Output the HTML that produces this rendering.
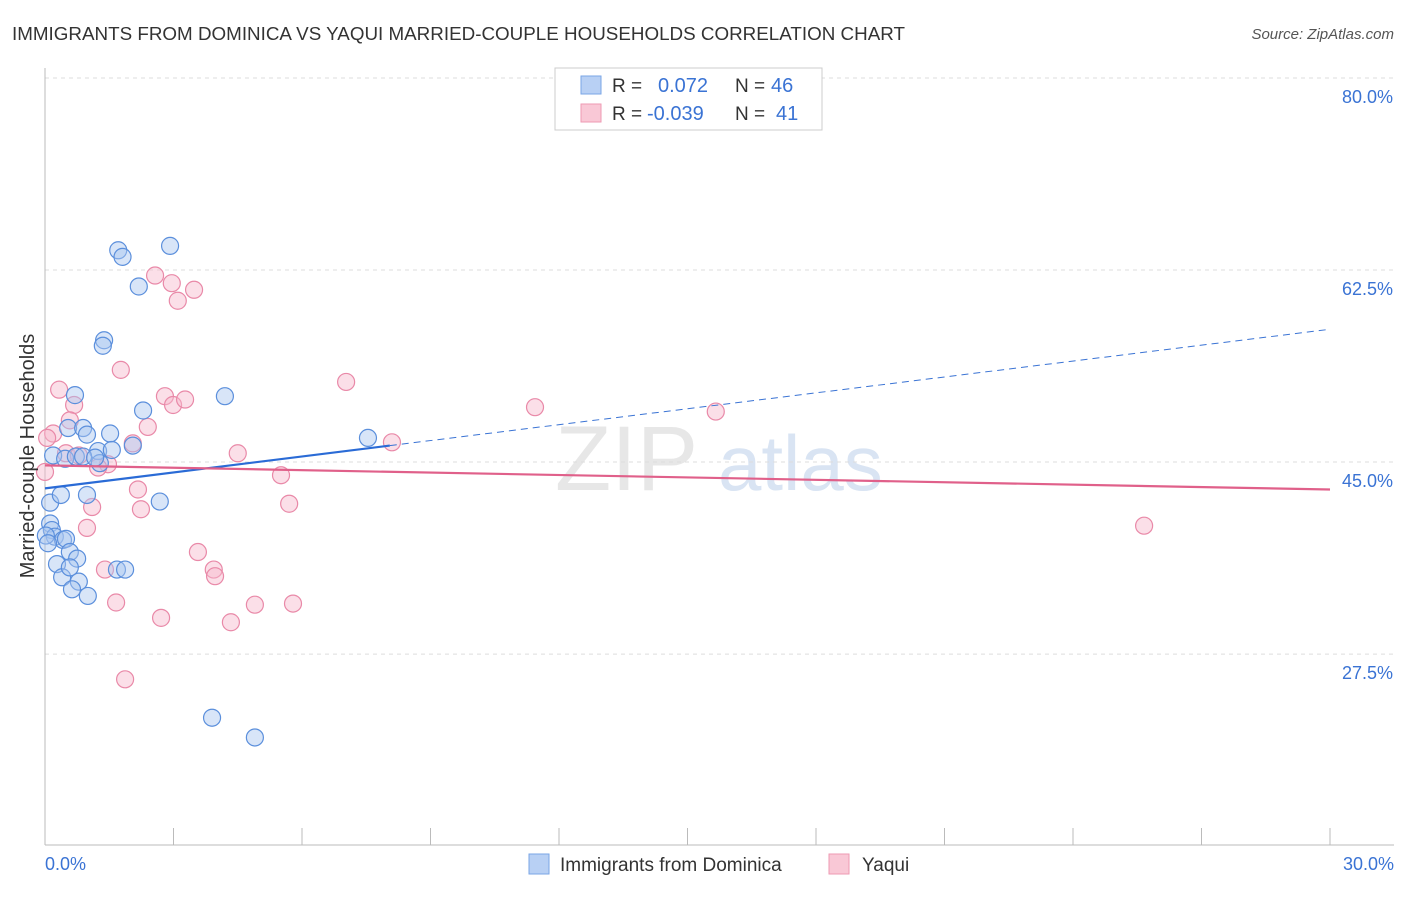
<!DOCTYPE html>
<html><head><meta charset="utf-8">
<style>
body{margin:0;background:#fff;font-family:"Liberation Sans",sans-serif;}
svg text{font-family:"Liberation Sans",sans-serif;}
</style></head>
<body>
<svg id="chart" width="1406" height="892" xmlns="http://www.w3.org/2000/svg">
<text x="12" y="40" font-size="18.5" textLength="893" lengthAdjust="spacingAndGlyphs" fill="#333">IMMIGRANTS FROM DOMINICA VS YAQUI MARRIED-COUPLE HOUSEHOLDS CORRELATION CHART</text>
<text x="1394" y="39" font-size="15" fill="#555" text-anchor="end" font-style="italic">Source: ZipAtlas.com</text>
<text x="555" y="490" font-size="92" fill="#ddd" font-family="Liberation Serif" opacity="0.7">ZIP</text>
<text x="718" y="490" font-size="78" fill="#c9d9ee" opacity="0.7">atlas</text>
<g id="grid"></g>
<g id="axes"></g>
<g id="points"></g>
<g id="trends"></g>
<text transform="translate(34,456) rotate(-90)" font-size="20" fill="#333" text-anchor="middle">Married-couple Households</text>
<g>
<rect x="555" y="68" width="267" height="62" fill="#fff" stroke="#ccc"/>
<rect x="581" y="76" width="20" height="18" fill="#b8d0f4" stroke="#7aa6e6"/>
<rect x="581" y="104" width="20" height="18" fill="#f9c8d6" stroke="#ee9ab3"/>
<text x="612" y="92" font-size="19" fill="#333">R =</text>
<text x="658" y="92" font-size="20" fill="#3a73d4">0.072</text>
<text x="735" y="92" font-size="19" fill="#333">N =</text>
<text x="771" y="92" font-size="20" fill="#3a73d4">46</text>
<text x="612" y="120" font-size="19" fill="#333">R =</text>
<text x="647" y="120" font-size="20" fill="#3a73d4">-0.039</text>
<text x="735" y="120" font-size="19" fill="#333">N =</text>
<text x="776" y="120" font-size="20" fill="#3a73d4">41</text>
</g>
<g>
<rect x="529" y="854" width="20" height="20" fill="#b8d0f4" stroke="#7aa6e6"/>
<text x="560" y="871" font-size="19" fill="#333">Immigrants from Dominica</text>
<rect x="829" y="854" width="20" height="20" fill="#f9c8d6" stroke="#ee9ab3"/>
<text x="862" y="871" font-size="19" fill="#333">Yaqui</text>
</g>
</svg>
<script>
const xTicks=[0,30];
const yTicks=[27.5,45,62.5,80];
const blueX=[1.71,1.81,2.92,2.19,1.38,1.35,0.70,2.29,4.20,0.54,0.89,1.52,0.98,2.05,1.24,0.19,0.47,0.72,0.89,7.54,1.28,0.12,0.37,0.98,2.68,1.68,1.87,0.12,0.16,0.23,0.42,0.49,0.58,0.28,0.75,0.40,0.79,0.63,1.00,0.58,3.90,4.90,0.02,0.07,1.17,1.56];
const blueY=[64.3,63.7,64.7,61.0,56.1,55.6,51.1,49.7,51.0,48.1,48.1,47.6,47.5,46.5,46.0,45.6,45.3,45.5,45.5,47.2,44.9,41.3,42.0,42.0,41.4,35.2,35.2,39.4,38.8,38.2,37.9,38.0,36.8,35.7,36.2,34.5,34.1,33.4,32.8,35.4,21.7,19.9,38.3,37.6,45.4,46.1];
const pinkX=[2.57,2.96,3.10,3.48,1.77,0.33,0.68,7.03,11.44,15.66,2.80,2.99,3.27,0.58,2.40,0.19,8.10,4.50,0.49,0.79,1.47,1.24,2.05,5.51,2.17,2.24,5.70,1.10,0.98,3.57,1.40,3.94,3.97,1.66,4.90,5.79,2.71,4.34,1.87,25.66,0.0,0.05];
const pinkY=[62.0,61.3,59.7,60.7,53.4,51.6,50.2,52.3,50.0,49.6,51.0,50.2,50.7,48.8,48.2,47.6,46.8,45.8,45.8,45.6,44.8,44.5,46.7,43.8,42.5,40.7,41.2,40.9,39.0,36.8,35.2,35.2,34.6,32.2,32.0,32.1,30.8,30.4,25.2,39.2,44.1,47.2];
const blueTrend=[[0,42.6],[8.05,46.5]];
const blueDash=[[8.05,46.5],[30,57.1]];
const pinkTrend=[[0,44.7],[30,42.5]];

const X0=45,X1=1330,Y0=10.1,Y1=80,PY0=845,PY1=78;
const sx=v=>X0+(v-0)/(30-0)*(X1-X0);
const sy=v=>PY0-(v-Y0)/(Y1-Y0)*(PY0-PY1);
const NS="http://www.w3.org/2000/svg";
function mk(tag,attrs,parent){const e=document.createElementNS(NS,tag);for(const k in attrs)e.setAttribute(k,attrs[k]);parent.appendChild(e);return e;}
const grid=document.getElementById('grid'),axes=document.getElementById('axes'),pts=document.getElementById('points'),tr=document.getElementById('trends');
yTicks.forEach(t=>{
  const l=mk('line',{x1:45,x2:1394,y1:sy(t),y2:sy(t),stroke:'#ddd','stroke-dasharray':'4,4'},grid);
  
  
  const tx=mk('text',{x:1393,y:sy(t)+25,'font-size':18,fill:'#3a73d4','text-anchor':'end'},axes);
  tx.textContent=t.toFixed(1)+'%';
  
  
});
const ax=mk('line',{x1:45,x2:45,y1:68,y2:845,stroke:'#bbb'},axes);


const bx=mk('line',{x1:45,x2:1394,y1:845,y2:845,stroke:'#bbb'},axes);


for(let i=0;i<=10;i++){
  const x=sx(i*3);
  const tk=mk('line',{x1:x,x2:x,y1:828,y2:845,stroke:'#bbb'},axes);
  
  
}
xTicks.forEach((t,i)=>{
  const tx=mk('text',{x:i==0?45:1394,y:870,'font-size':18,fill:'#3a73d4','text-anchor':i==0?'start':'end'},axes);
  tx.textContent=t.toFixed(1)+'%';
  
  
});
function dots(xs,ys,fill,stroke,name){
  xs.forEach((v,i)=>{
    const c=mk('circle',{cx:sx(v),cy:sy(ys[i]),r:8.5,fill:fill,'fill-opacity':0.45,stroke:stroke,'stroke-width':1.2},pts);
    
    
  });
}
dots(pinkX,pinkY,'#f7b9cb','#e989a8','yaqui-point');
dots(blueX,blueY,'#a9c6f0','#5b8fdc','dominica-point');
function line(p,col,w,dash,name){
  const l=mk('line',{x1:sx(p[0][0]),y1:sy(p[0][1]),x2:sx(p[1][0]),y2:sy(p[1][1]),stroke:col,'stroke-width':w},tr);
  if(dash)l.setAttribute('stroke-dasharray',dash);
  
  
}
line(blueDash,'#3a73d4',1,'7,5','dominica-trend-extension');
line(blueTrend,'#2a6bd6',2.2,null,'dominica-trend-line');
line(pinkTrend,'#e0608a',2.2,null,'yaqui-trend-line');
</script>
</body></html>
